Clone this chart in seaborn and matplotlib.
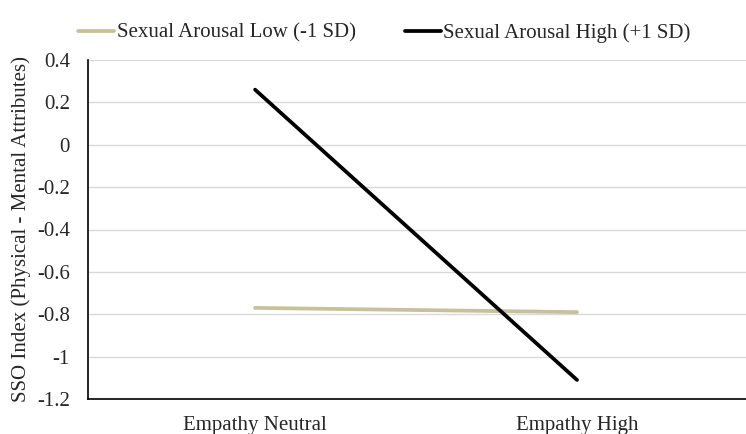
import matplotlib
matplotlib.use("Agg")
import matplotlib.pyplot as plt
import seaborn as sns
import pandas as pd

categories = ["Empathy Neutral", "Empathy High"]
low_values = [-0.77, -0.79]
high_values = [0.26, -1.11]
series_names = ["Sexual Arousal Low (-1 SD)", "Sexual Arousal High (+1 SD)"]
yticks = [0.4, 0.2, 0, -0.2, -0.4, -0.6, -0.8, -1, -1.2]

sns.set_theme(style="white")
plt.rcParams['font.family'] = ['Liberation Serif', 'DejaVu Serif']

df = pd.DataFrame({
    "x": [0, 1, 0, 1],
    "y": low_values + high_values,
    "series": [series_names[0]] * 2 + [series_names[1]] * 2,
})

fs = 15
fig = plt.figure(figsize=(7.46, 4.34), dpi=100)
ax = fig.add_axes([88/746, 1 - 399/434, 1 - 88/746, (399 - 60)/434])

sns.lineplot(data=df, x="x", y="y", hue="series",
             palette={series_names[0]: "#C8C09A", series_names[1]: "#000000"},
             linewidth=2.7, ax=ax, legend=True)

ax.set_xlim(-0.519, 1.525)
ax.set_ylim(-1.2, 0.4)
ax.set_yticks(yticks)
ax.set_yticklabels([("%g" % t) for t in yticks], fontsize=fs)
ax.set_xticks([0, 1])
ax.set_xticklabels(categories, fontsize=fs)
ax.tick_params(axis='y', length=0, pad=13)
ax.tick_params(axis='x', length=0, pad=12)
ax.grid(axis='y', color='#D9D9D9', linewidth=1)
ax.set_axisbelow(True)
for s in ['top', 'right']:
    ax.spines[s].set_visible(False)
for s in ['left', 'bottom']:
    ax.spines[s].set_color('black')
    ax.spines[s].set_linewidth(1.2)
ax.set_xlabel("")
ax.set_ylabel("SSO Index (Physical - Mental Attributes)", fontsize=fs, labelpad=4)

h, l = ax.get_legend_handles_labels()
fig.legend(h, l, loc='center left', bbox_to_anchor=(78/746, 1 - 33/434), ncol=2,
           frameon=False, fontsize=fs, handlelength=1.75, handletextpad=0.1,
           columnspacing=2.35, borderaxespad=0, borderpad=0)
if ax.get_legend():
    ax.get_legend().remove()

fig.savefig("out.png", dpi=100)
